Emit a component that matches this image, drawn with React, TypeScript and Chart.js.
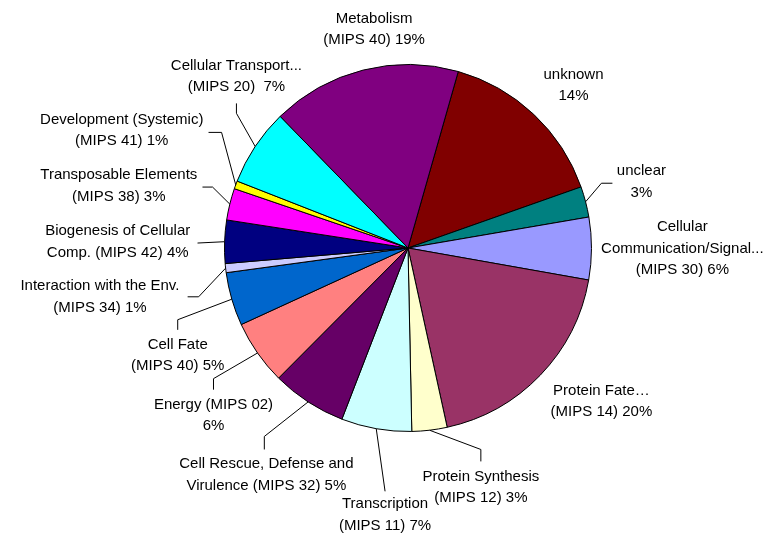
import React, { useEffect, useRef } from "react";
import { Chart, registerables } from "chart.js";

Chart.register(...registerables);

// Categories, clockwise starting from "unknown"
const categories = [
  "unknown",
  "unclear",
  "Cellular Communication/Signal... (MIPS 30)",
  "Protein Fate... (MIPS 14)",
  "Protein Synthesis (MIPS 12)",
  "Transcription (MIPS 11)",
  "Cell Rescue, Defense and Virulence (MIPS 32)",
  "Energy (MIPS 02)",
  "Cell Fate (MIPS 40)",
  "Interaction with the Env. (MIPS 34)",
  "Biogenesis of Cellular Comp. (MIPS 42)",
  "Transposable Elements (MIPS 38)",
  "Development (Systemic) (MIPS 41)",
  "Cellular Transport... (MIPS 20)",
  "Metabolism (MIPS 40)",
];

// Slice sizes (share of the pie, %)
const shares = [15.2, 2.7, 5.5, 18.8, 3.1, 6.2, 6.6, 5.7, 4.7, 0.8, 3.8, 2.8, 0.7, 6.8, 16.7];

// Label texts as printed
const labelLines: string[][] = [
  ["unknown", "14%"],
  ["unclear", "3%"],
  ["Cellular", "Communication/Signal...", "(MIPS 30) 6%"],
  ["Protein Fate\u2026", "(MIPS 14) 20%"],
  ["Protein Synthesis", "(MIPS 12) 3%"],
  ["Transcription", "(MIPS 11) 7%"],
  ["Cell Rescue, Defense and", "Virulence (MIPS 32) 5%"],
  ["Energy (MIPS 02)", "6%"],
  ["Cell Fate", "(MIPS 40) 5%"],
  ["Interaction with the Env.", "(MIPS 34) 1%"],
  ["Biogenesis of Cellular", "Comp. (MIPS 42) 4%"],
  ["Transposable Elements", "(MIPS 38) 3%"],
  ["Development (Systemic)", "(MIPS 41) 1%"],
  ["Cellular Transport...", "(MIPS 20)  7%"],
  ["Metabolism", "(MIPS 40) 19%"],
];

const sliceColors = [
  "#800000", "#008080", "#9999FF", "#993366", "#FFFFCC",
  "#CCFFFF", "#660066", "#FF8080", "#0066CC", "#CCCCFF",
  "#000080", "#FF00FF", "#FFFF00", "#00FFFF", "#800080",
];

const startAngleDeg = 15.9;

// Label layout, in units of the pie radius relative to the pie centre
// [centre x of text, middle y of first line]
const labelPos: number[][] = [
  [0.902, -0.946],
  [1.272, -0.418],
  [1.495, -0.114],
  [1.054, 0.777],
  [0.397, 1.245],
  [-0.125, 1.397],
  [-0.772, 1.179],
  [-1.06, 0.853],
  [-1.255, 0.527],
  [-1.679, 0.207],
  [-1.582, -0.092],
  [-1.576, -0.397],
  [-1.56, -0.701],
  [-0.935, -0.995],
  [-0.185, -1.25],
];

// Leader line bends (after starting at the slice's mid-angle on the rim)
const leaderPts: (number[][] | null)[] = [
  null,
  [[1.054, -0.353], [1.114, -0.353]],
  null,
  null,
  [[0.397, 1.098], [0.397, 1.163]],
  [[-0.125, 1.326]],
  [[-0.783, 1.027], [-0.783, 1.098]],
  [[-1.06, 0.712], [-1.06, 0.772]],
  [[-1.255, 0.391], [-1.255, 0.446]],
  [[-1.141, 0.266], [-1.201, 0.266]],
  [[-1.147, -0.027]],
  [[-1.065, -0.332], [-1.12, -0.332]],
  [[-1.016, -0.63], [-1.087, -0.63]],
  [[-0.935, -0.734], [-0.935, -0.788]],
  null,
];

const FONT = "15px 'Liberation Sans', Arial, sans-serif";
const LINE_H = 21.5;

const labelPlugin = {
  id: "outsideLabels",
  afterDatasetsDraw(chart: any) {
    const meta = chart.getDatasetMeta(0);
    const ctx = chart.ctx as CanvasRenderingContext2D;
    ctx.save();
    meta.data.forEach((arc: any, i: number) => {
      const cx = arc.x;
      const cy = arc.y;
      const R = arc.outerRadius;
      const mid = (arc.startAngle + arc.endAngle) / 2;
      const pts = leaderPts[i];
      if (pts) {
        ctx.beginPath();
        ctx.strokeStyle = "#000000";
        ctx.lineWidth = 1;
        ctx.moveTo(cx + R * Math.cos(mid), cy + R * Math.sin(mid));
        pts.forEach((p) => ctx.lineTo(cx + p[0] * R, cy + p[1] * R));
        ctx.stroke();
      }
      const lx = cx + labelPos[i][0] * R;
      const ly = cy + labelPos[i][1] * R;
      ctx.font = FONT;
      ctx.fillStyle = "#000000";
      ctx.textAlign = "center";
      ctx.textBaseline = "middle";
      labelLines[i].forEach((t, k) => ctx.fillText(t, lx, ly + k * LINE_H));
    });
    ctx.restore();
  },
};

export default function App() {
  const ref = useRef<HTMLCanvasElement | null>(null);
  useEffect(() => {
    if (!ref.current) return;
    const chart = new Chart(ref.current, {
      type: "pie",
      data: {
        labels: categories,
        datasets: [
          {
            data: shares,
            backgroundColor: sliceColors,
            borderColor: "#000000",
            borderWidth: 1,
          },
        ],
      },
      options: {
        animation: false,
        responsive: false,
        maintainAspectRatio: false,
        rotation: startAngleDeg,
        layout: { padding: { left: 224, right: 174, top: 64, bottom: 109 } },
        plugins: {
          legend: { display: false },
          tooltip: { enabled: false },
          title: { display: false },
        },
      },
      plugins: [labelPlugin],
    });
    return () => chart.destroy();
  }, []);
  return (
    <div style={{ position: "absolute", left: 0, top: 0, width: 766, height: 541, background: "#fff" }}>
      <canvas ref={ref} width={766} height={541} style={{ width: 766, height: 541 }} />
    </div>
  );
}
